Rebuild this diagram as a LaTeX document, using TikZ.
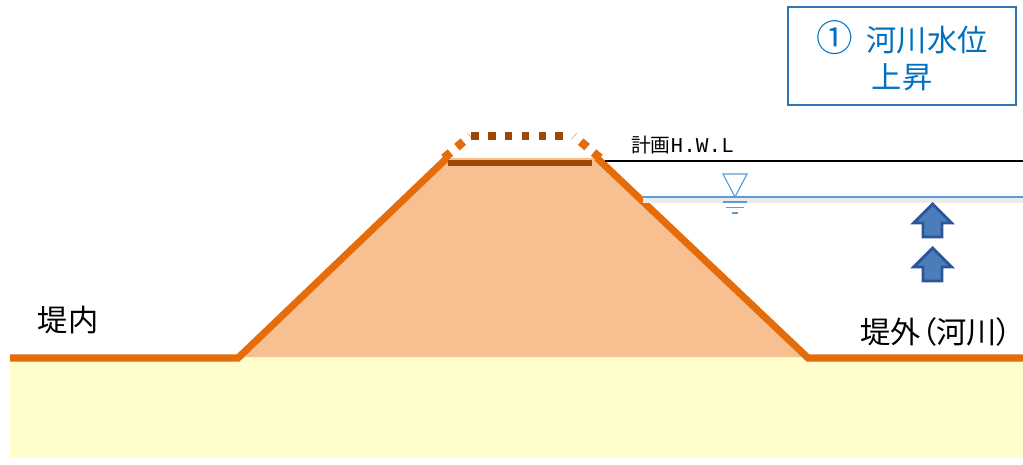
\documentclass[tikz,border=0pt]{standalone}
\usepackage{fontspec}
\setmainfont{Noto Sans CJK JP}[RawFeature=+palt]
\newfontfamily\monofont{Liberation Mono}
\usetikzlibrary{positioning}

\definecolor{ground}{RGB}{255,253,204}
\definecolor{bank}{RGB}{248,192,144}
\definecolor{bankline}{RGB}{228,108,10}
\definecolor{crest}{RGB}{158,72,6}
\definecolor{water}{RGB}{91,155,213}
\definecolor{arrowfill}{RGB}{74,126,187}
\definecolor{arrowline}{RGB}{47,85,151}
\definecolor{boxblue}{RGB}{46,117,182}
\definecolor{textblue}{RGB}{0,112,192}

\tikzset{
	slope/.style={bankline, line width=5pt, line join=miter},
	label/.style={inner sep=0pt, font=\fontsize{21.5}{24}\selectfont},
	rise/.style={draw=arrowline, fill=arrowfill, line width=2pt, line join=miter}
}

\begin{document}
\begin{tikzpicture}[x=0.025cm, y=-0.025cm]
			
			\useasboundingbox (0,0) rectangle (1023,465);
			
			%Ground and embankment
			\fill[ground] (10,357) rectangle (1023,458);
			\fill[bank] (238,357) -- (447,158) -- (597,158) -- (808,357) -- cycle;
			\draw[slope] (10,358) -- (238,358) -- (447,158);
			\draw[slope] (597,158) -- (808,358) -- (1023,358);
			
			%Raised crest
			\draw[crest, line width=4.9pt] (448,163) -- (592,163);
			\draw[bankline, line width=6pt, dash pattern=on 6pt off 6pt] (444,158) -- (470,136);
			\draw[bankline, line width=6pt, dash pattern=on 6pt off 6pt] (600,158) -- (574,136);
			\draw[crest, line width=5.5pt, dash pattern=on 5.5pt off 6.5pt] (471,136) -- (570,136);
			
			%Water levels
			\draw[black, line width=1.2pt] (605,161) -- (1023,161);
			\node (HWL) at (631,145) [anchor=west, inner sep=0pt,
			font=\fontsize{14}{16}\selectfont]{計画{\monofont\fontsize{15}{16}\selectfont H.W.L}};
			\fill[black!8] (643,198) rectangle (1023,203);
			\draw[water, line width=1pt] (643,197) -- (1023,197);
			\draw[water, line width=0.8pt] (723,174) -- (747,174) -- (735,197) -- cycle;
			\draw[water, line width=0.8pt] (723,202) -- (747,202);
			\draw[water, line width=0.8pt] (726,207.5) -- (744,207.5);
			\draw[water, line width=0.8pt] (732,213) -- (738,213);
			
			%Arrows
			\foreach \top in {204,248}
			\draw[rise] (932.5,\top) -- ++(19,19) -- ++(-9.5,0) -- ++(0,14) -- ++(-19,0)
			-- ++(0,-14) -- ++(-9.5,0) -- cycle;
			
			%Labels
			\node (Inside) at (68,320) [label]{堤内};
			\node (Outside) at (1012,332) [label, anchor=east]{堤外（河川）};
			\node (Stage) at (902,56) [draw=boxblue, line width=1.5pt, minimum width=5.7cm,
			minimum height=2.45cm, text=textblue, align=center, inner sep=0pt,
			font=\fontsize{21.5}{26}\selectfont]{{\fontsize{26}{26}\selectfont ①}\ \ 河川水位\\上昇};
			
			\end{tikzpicture}
\end{document}
